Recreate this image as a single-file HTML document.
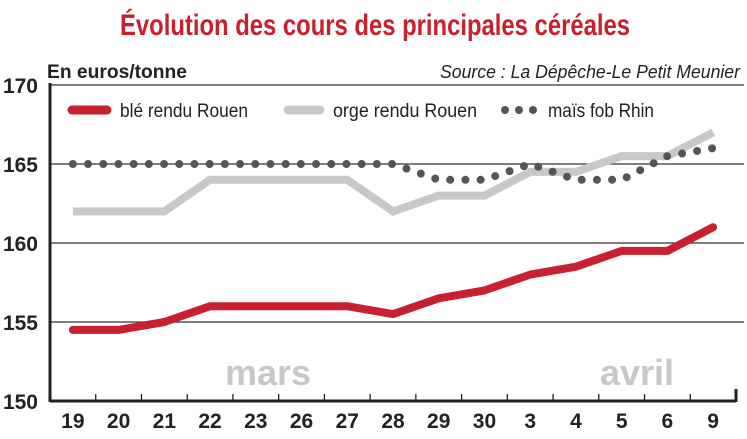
<!DOCTYPE html>
<html><head><meta charset="utf-8"><style>
html,body{margin:0;padding:0;background:#fff}
svg{display:block;font-family:"Liberation Sans",sans-serif}
</style></head><body>
<svg id="chart" width="747" height="439" viewBox="0 0 747 439">
<text x="375" y="35" text-anchor="middle" font-size="30" font-weight="bold" fill="#c8202f" textLength="510" lengthAdjust="spacingAndGlyphs">Évolution des cours des principales céréales</text>
<text x="47" y="78" font-size="19" font-weight="bold" fill="#222" textLength="140" lengthAdjust="spacingAndGlyphs">En euros/tonne</text>
<text x="740" y="78" text-anchor="end" font-size="18" font-style="italic" fill="#222" textLength="300" lengthAdjust="spacingAndGlyphs">Source : La Dépêche-Le Petit Meunier</text>
<g id="grid"></g>
<g id="series"></g>
<g id="legend">
<line x1="72" y1="110" x2="107" y2="110" stroke="#c8202f" stroke-width="9" stroke-linecap="round"/>
<text x="120" y="117" font-size="19" fill="#222" textLength="128" lengthAdjust="spacingAndGlyphs">blé rendu Rouen</text>
<line x1="288" y1="110" x2="320" y2="110" stroke="#c8c8c8" stroke-width="9" stroke-linecap="round"/>
<text x="333" y="117" font-size="19" fill="#222" textLength="144" lengthAdjust="spacingAndGlyphs">orge rendu Rouen</text>
<g fill="#555"><circle cx="505" cy="110" r="4"/><circle cx="519" cy="110" r="4"/><circle cx="533" cy="110" r="4"/></g>
<text x="548" y="117" font-size="19" fill="#222" textLength="106" lengthAdjust="spacingAndGlyphs">maïs fob Rhin</text>
</g>
<text x="268" y="385" text-anchor="middle" font-size="36" font-weight="bold" fill="#c8c8c8">mars</text>
<text x="637" y="385" text-anchor="middle" font-size="36" font-weight="bold" fill="#c8c8c8">avril</text>
</svg>
<script>
const categories=["19","20","21","22","23","26","27","28","29","30","3","4","5","6","9"];
const bleValues=[154.5,154.5,155,156,156,156,156,155.5,156.5,157,158,158.5,159.5,159.5,161];
const orgeValues=[162,162,162,164,164,164,164,162,163,163,164.5,164.5,165.5,165.5,167];
const maisValues=[165,165,165,165,165,165,165,165,164,164,165,164,164,165.5,166];
const yTicks=[150,155,160,165,170];
const NS="http://www.w3.org/2000/svg";
const X0=50,X1=736,Y0=401,Y1=85,YMIN=150,YMAX=170;
const bw=(X1-X0)/categories.length;
const x=i=>X0+bw*(i+0.5);
const y=v=>Y0-(v-YMIN)/(YMAX-YMIN)*(Y0-Y1);
function mk(tag,attrs,parent){const e=document.createElementNS(NS,tag);for(const k in attrs)e.setAttribute(k,attrs[k]);parent.appendChild(e);return e;}
const grid=document.getElementById('grid');
yTicks.forEach(t=>{
  if(t>YMIN){const l=mk('line',{x1:X0,x2:X1+8,y1:y(t),y2:y(t),stroke:'#333','stroke-width':1.3},grid);
  
  }
  const tx=mk('text',{x:38,y:y(t)+8,'text-anchor':'end','font-size':21,'font-weight':'bold',fill:'#222'},grid);
  tx.textContent=t;
  
  
});
const ya=mk('line',{x1:X0,x2:X0,y1:Y1-2,y2:Y0+1,stroke:'#222','stroke-width':3},grid);


const xa=mk('line',{x1:X0,x2:X1,y1:Y0,y2:Y0,stroke:'#222','stroke-width':3},grid);


const ea=mk('line',{x1:X1,x2:X1,y1:Y0-12,y2:Y0+1,stroke:'#222','stroke-width':3},grid);


categories.forEach((c,i)=>{
  if(i>0){const tk=mk('line',{x1:X0+bw*i,x2:X0+bw*i,y1:Y0-7,y2:Y0,stroke:'#222','stroke-width':1.3},grid);
  
  }
  const tx=mk('text',{x:x(i),y:428,'text-anchor':'middle','font-size':21,'font-weight':'bold',fill:'#222'},grid);
  tx.textContent=c;
  
  
});
const s=document.getElementById('series');
const pts=a=>a.map((v,i)=>x(i)+','+y(v)).join(' ');
const po=mk('polyline',{points:pts(orgeValues),fill:'none',stroke:'#c8c8c8','stroke-width':8,'stroke-linejoin':'miter'},s);


const pb=mk('polyline',{points:pts(bleValues),fill:'none',stroke:'#c8202f','stroke-width':8,'stroke-linejoin':'round','stroke-linecap':'round'},s);


const pm=mk('polyline',{points:pts(maisValues),fill:'none',stroke:'#555','stroke-width':8,'stroke-dasharray':'0 15.2','stroke-linecap':'round'},s);


</script>
</body></html>
